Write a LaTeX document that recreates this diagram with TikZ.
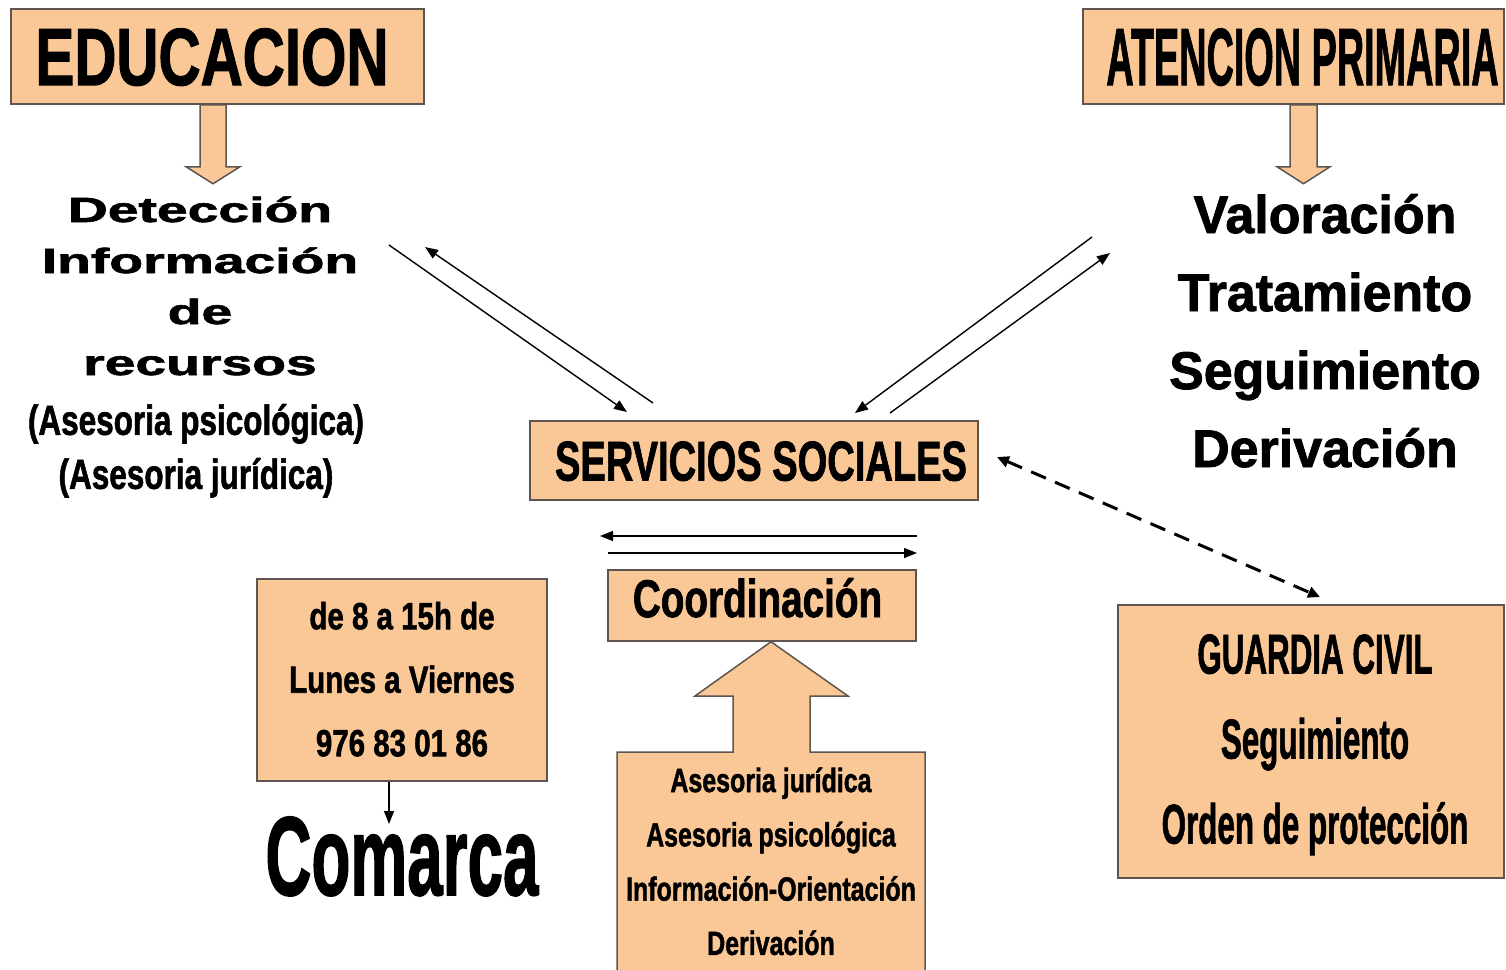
\documentclass[tikz,border=0pt]{standalone}
\usepackage{fontspec}
\setmainfont{Liberation Sans}[BoldFeatures={FakeBold=1.6}]
\usepackage{graphicx}
\usetikzlibrary{arrows.meta}

\definecolor{peach}{RGB}{250,199,150}
\definecolor{boxline}{RGB}{95,85,80}

% squeeze text sideways, one line or several
\newcommand{\squeeze}[2]{\scalebox{#1}[1]{#2}}
\newcommand{\boxlines}[2]{\scalebox{#1}[1]{\begin{tabular}{@{}c@{}}#2\end{tabular}}}

\begin{document}
\begin{tikzpicture}[x=0.5pt,y=-0.5pt,>={Triangle[length=6.5pt,width=5pt]},
  main box/.style={rectangle,fill=peach,draw=boxline,line width=0.75pt,inner sep=0pt},
  big arrow/.style={fill=peach,draw=boxline,line width=0.75pt},
  txt/.style={inner sep=0pt},
  link/.style={->,line width=0.7pt}]

  \useasboundingbox (0,0) rectangle (1506,970);
  \fill[white] (0,0) rectangle (1506,970);

  % top boxes
  \node[main box,minimum width=206.5pt,minimum height=47.5pt,text height=29pt,text depth=0.5pt,
    font=\fontsize{40.5}{48}\selectfont\bfseries] (edu) at (217.5,56.5) {\squeeze{.72}{EDUCACION}\hspace*{5.5pt}};
  \node[main box,minimum width=210.5pt,minimum height=47.5pt,text height=29pt,text depth=0.5pt,
    font=\fontsize{40.5}{48}\selectfont\bfseries] (aten) at (1293.5,56.5) {\hspace*{9pt}\squeeze{.467}{ATENCION PRIMARIA}};

  \draw[big arrow] ([xshift=-8.75pt]edu.south) -- ++(0,62) -- ++(-14,0) -- ++(27,17) -- ++(27,-17) -- ++(-14,0) -- ++(0,-62) -- cycle;
  \draw[big arrow] ([xshift=-1.75pt]aten.south) -- ++(0,62) -- ++(-13,0) -- ++(26.5,17) -- ++(26.5,-17) -- ++(-13,0) -- ++(0,-62) -- cycle;

  % texts under the top boxes
  \node[txt,font=\fontsize{17.5}{25.5}\selectfont\bfseries] (det) at (200,288.3)
    {\boxlines{1.58}{Detección\\Información\\de\\recursos}};
  \node[txt,font=\fontsize{21}{27}\selectfont\bfseries] (ases) at (196,451)
    {\boxlines{.75}{(Asesoria psicológica)\\(Asesoria jurídica)}};
  \node[txt,font=\fontsize{26.5}{39}\selectfont\bfseries] (valor) at (1325,334.4)
    {\boxlines{.98}{Valoración\\Tratamiento\\Seguimiento\\Derivación}};

  % middle
  \node[main box,minimum width=224pt,minimum height=39.5pt,text height=20pt,text depth=0pt,
    font=\fontsize{28}{34}\selectfont\bfseries] (serv) at (754,460.5) {\hspace*{7pt}\squeeze{.68}{SERVICIOS SOCIALES}};
  \node[main box,minimum width=154pt,minimum height=35.5pt,text height=19pt,text depth=7.5pt,
    font=\fontsize{26.5}{32}\selectfont\bfseries] (coord) at (762,605.5) {\squeeze{.73}{Coordinación}\hspace*{4.5pt}};

  \draw[big arrow] (617,990) |- (733,752) |- (695,696) -- ([xshift=4.5pt]coord.south) -- (848,696) -| (810,752) -| (925,990);
  \node[txt,font=\fontsize{16.75}{27.15}\selectfont\bfseries] (serv list) at (771,862.6)
    {\boxlines{.745}{Asesoria jurídica\\Asesoria psicológica\\Información-Orientación\\Derivación}};

  % bottom left
  \node[main box,minimum width=145pt,minimum height=101pt,
    font=\fontsize{18.9}{31.75}\selectfont\bfseries] (hours) at (402,680)
    {\boxlines{.78}{de 8 a 15h de\\Lunes a Viernes\\976 83 01 86}};
  \node[txt,anchor=base,font=\fontsize{56}{60}\selectfont\bfseries] (comarca) at (402,895) {\squeeze{.57}{Comarca}};

  % bottom right
  \node[main box,minimum width=193pt,minimum height=136.5pt,
    font=\fontsize{28}{42.5}\selectfont\bfseries] (guard) at (1311,741.5)
    {\hspace*{4pt}\boxlines{.56}{GUARDIA CIVIL\\Seguimiento\\Orden de protección}};

  % arrow ends
  \coordinate (a1) at (389,245);  \coordinate (a2) at (627,412);
  \coordinate (a3) at (653,403);  \coordinate (a4) at (425,247);
  \coordinate (b1) at (1092,237); \coordinate (b2) at (855,413);
  \coordinate (b3) at (890,413);  \coordinate (b4) at (1110,253);
  \coordinate (c1) at (917,536);  \coordinate (c2) at (600,536);
  \coordinate (c3) at (608,553);  \coordinate (c4) at (917,553);
  \coordinate (h1) at (389,824);
  \coordinate (g1) at (997,457);  \coordinate (g2) at (1320,597);

  \draw[link] (a1) -- (a2);
  \draw[link] (a3) -- (a4);
  \draw[link] (b1) -- (b2);
  \draw[link] (b3) -- (b4);
  \draw[link] (c1) -- (c2);
  \draw[link] (c3) -- (c4);
  \draw[link] ([xshift=-6.5pt]hours.south) -- (h1);
  \draw[<->,line width=1.5pt,dash pattern=on 8pt off 5pt,>={Triangle[length=6pt,width=5.5pt]}] (g1) -- (g2);

\end{tikzpicture}
\end{document}
